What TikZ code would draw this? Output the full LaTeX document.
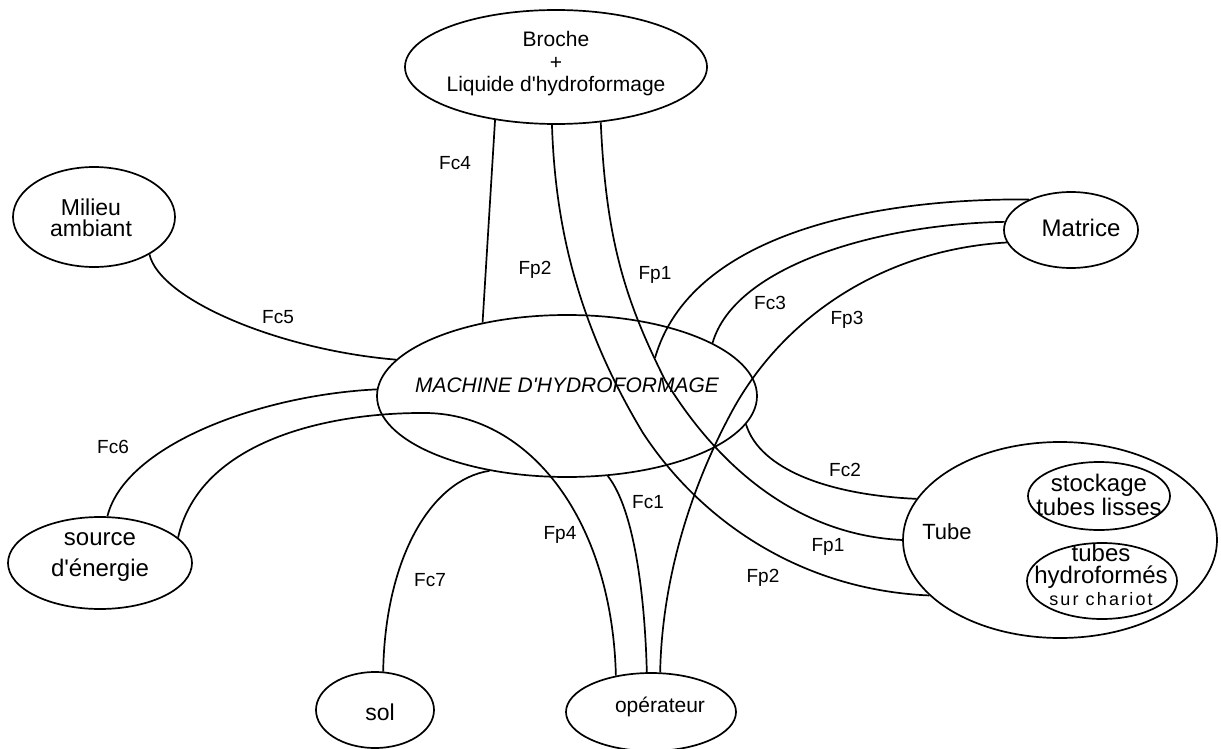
\documentclass[tikz,border=0pt]{standalone}
\usepackage{fontspec}
\setmainfont{Liberation Sans}[Ligatures=TeXOff]
\usetikzlibrary{shapes.geometric}
\begin{document}
\begin{tikzpicture}[x=1pt,y=-1pt,
  ell/.style={draw, ellipse, line width=1.7pt, inner sep=0pt},
  link/.style={line width=1.7pt},
  lbl/.style={inner sep=0pt, font=\fontsize{19}{19}\selectfont},
  txt/.style={inner sep=0pt, align=center}]
\useasboundingbox (0,0) rectangle (1221,749);
% ellipses
\node[ell, minimum width=302pt, minimum height=114pt] (broche) at (556,67) {};
\node[ell, minimum width=162pt, minimum height=100pt] (milieu) at (94,217) {};
\node[ell, minimum width=134pt, minimum height=76pt] (matrice) at (1071,230) {};
\node[ell, minimum width=380pt, minimum height=162pt] (machine) at (567,396) {};
\node[ell, minimum width=314pt, minimum height=196pt] (tube) at (1060,540) {};
\node[ell, minimum width=142pt, minimum height=68pt] (stock) at (1099,496) {};
\node[ell, minimum width=150pt, minimum height=76pt] (hydro) at (1102,581) {};
\node[ell, minimum width=184pt, minimum height=92pt] (source) at (100,563) {};
\node[ell, minimum width=118pt, minimum height=76pt] (sol) at (375,710) {};
\node[ell, minimum width=170pt, minimum height=78pt] (opera) at (651,712) {};
% texts
\node[txt, font=\fontsize{21}{22.5}\selectfont] (tbroche) at (556,64) {Broche\\+\\Liquide d'hydroformage};
\node[txt, font=\fontsize{23}{21}\selectfont] (tmilieu) at (91,218) {Milieu\\ambiant};
\node[txt, font=\fontsize{24}{24}\selectfont] (tmatrice) at (1081,228) {Matrice};
\node[txt, font=\fontsize{21}{21}\selectfont\itshape] (tmachine) at (567,385) {MACHINE D'HYDROFORMAGE};
\node[txt, font=\fontsize{22}{22}\selectfont] (ttube) at (947,532) {Tube};
\node[txt, font=\fontsize{24}{24}\selectfont] (tstock) at (1099,495) {stockage\\tubes lisses};
\node[txt, font=\fontsize{24}{22}\selectfont] (thydro) at (1101,575) {tubes\\hydroformés\\{\fontsize{18}{22}\selectfont\addfontfeature{LetterSpace=12}sur chariot}};
\node[txt, font=\fontsize{24}{31}\selectfont] (tsource) at (100,557) {source\\d'énergie};
\node[txt, font=\fontsize{23}{23}\selectfont] (tsol) at (380,712) {sol};
\node[txt, font=\fontsize{21}{21}\selectfont] (topera) at (660,707) {opérateur};
% connectors
\draw[link] (broche.221) -- (machine.139);
\draw[link] (broche.266) .. controls (555,220) and (575,320) .. (643,433) .. controls (700,520) and (800,590) .. (tube.203);
\draw[link] (broche.309) .. controls (606,240) and (625,300) .. (665,380) .. controls (720,470) and (800,535) .. (tube.180);
\coordinate (join) at (655,358);
\draw[link] (matrice.144) .. controls (870,198) and (690,235) .. (join);
\draw[link] (matrice.173) .. controls (880,224) and (735,265) .. (machine.20);
\draw[link] (matrice.191) .. controls (880,250) and (780,320) .. (730,415) .. controls (690,490) and (662,580) .. (opera.77);
\draw[link] (milieu.-34) .. controls (160,300) and (280,350) .. (machine.168);
\draw[link] (source.81) .. controls (125,445) and (260,395) .. (machine.178);
\draw[link] (source.18) .. controls (200,440) and (330,412) .. (427,413) .. controls (530,415) and (612,520) .. (opera.134);
\draw[link] (sol.78) .. controls (385,560) and (430,480) .. (machine.-136);
\draw[link] (machine.-63) .. controls (635,510) and (645,600) .. (opera.96);
\draw[link] (machine.-9) .. controls (760,470) and (830,495) .. (tube.164);
% labels
\node[lbl] (l4) at (455,163) {Fc4};
\node[lbl] (lp2a) at (535,270) {Fp2};
\node[lbl] (lp1a) at (655,275) {Fp1};
\node[lbl] (l5) at (278,317) {Fc5};
\node[lbl] (l6) at (113,447) {Fc6};
\node[lbl] (l3) at (770,303) {Fc3};
\node[lbl] (lp3) at (847,320) {Fp3};
\node[lbl] (l2) at (845,470) {Fc2};
\node[lbl] (l1) at (648,502) {Fc1};
\node[lbl] (lp4) at (560,535) {Fp4};
\node[lbl] (lp1b) at (828,547) {Fp1};
\node[lbl] (lp2b) at (763,578) {Fp2};
\node[lbl] (l7) at (430,580) {Fc7};
\end{tikzpicture}
\end{document}
